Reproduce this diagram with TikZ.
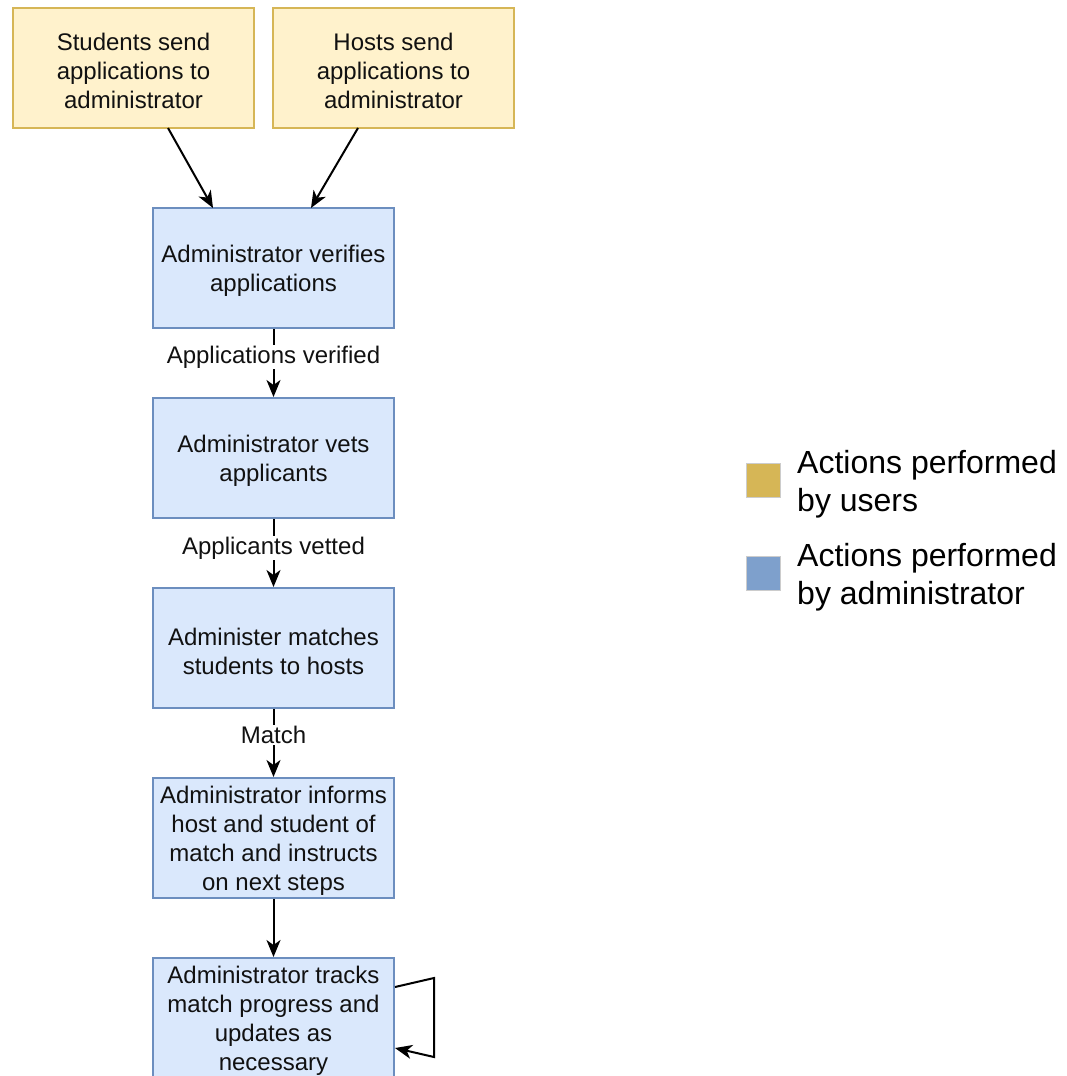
\documentclass[tikz,border=0pt]{standalone}
\usepackage{fontspec}
\setmainfont{Liberation Sans}
\usetikzlibrary{arrows.meta}
\definecolor{yfill}{HTML}{FFF2CC}
\definecolor{ydraw}{HTML}{D6B656}
\definecolor{bfill}{HTML}{DAE8FC}
\definecolor{bdraw}{HTML}{6C8EBF}
\definecolor{legy}{HTML}{D6B656}
\definecolor{legb}{HTML}{7EA0CC}
\definecolor{txt}{HTML}{111111}
\tikzset{
  box/.style={rectangle, minimum width=241pt, minimum height=120pt, line width=2pt,
    inner sep=0pt},
  boxtext/.style={align=center, inner sep=0pt, text=txt, yshift=-3pt,
    font=\fontsize{24}{29}\selectfont},
  userbox/.style={box, fill=yfill, draw=ydraw},
  adminbox/.style={box, fill=bfill, draw=bdraw},
  conn/.style={line width=2pt, -{Stealth[length=17pt,width=14pt,inset=5pt]}},
  elabel/.style={fill=white, inner sep=1pt, text=txt, font=\fontsize{24}{29}\selectfont},
  legsq/.style={rectangle, minimum size=34pt, inner sep=0pt, draw=black!20, line width=0.8pt},
  legtxt/.style={align=left, anchor=west, inner sep=0pt, text=black, font=\fontsize{32}{38}\selectfont}
}
\begin{document}
\begin{tikzpicture}[x=1pt,y=-1pt]
\useasboundingbox (0,0) rectangle (1066,1076);
\clip (0,0) rectangle (1066,1076);
\fill[white] (0,0) rectangle (1066,1076);
\node[userbox, label={[boxtext]center:Students send\\applications to\\administrator}] (u1) at (133.5,68) {};
\node[userbox, label={[boxtext]center:Hosts send\\applications to\\administrator}] (u2) at (393.5,68) {};
\node[adminbox, label={[boxtext]center:Administrator verifies\\applications}] (a1) at (273.5,268) {};
\node[adminbox, label={[boxtext]center:Administrator vets\\applicants}] (a2) at (273.5,458) {};
\node[adminbox, label={[boxtext]center:Administer matches\\students to hosts}] (a3) at (273.5,648) {};
\node[adminbox, label={[boxtext]center:Administrator informs\\host and student of\\match and instructs\\on next steps}] (a4) at (273.5,838) {};
\node[adminbox, label={[boxtext]center:Administrator tracks\\match progress and\\updates as\\necessary}] (a5) at (273.5,1018) {};
\coordinate (s1) at (168,128);
\coordinate (t1) at (213,208);
\coordinate (s2) at (358,128);
\coordinate (t2) at (311,208);
\draw[conn] (s1) -- (t1);
\draw[conn] (s2) -- (t2);
\draw[conn] (a1) -- node[elabel, pos=0.41] {Applications verified} (a2);
\draw[conn] (a2) -- node[elabel, pos=0.43] {Applicants vetted} (a3);
\draw[conn] (a3) -- node[elabel, pos=0.38] {Match} (a4);
\draw[conn] (a4) -- (a5);
\coordinate (l1) at (434,978);
\coordinate (l2) at (434,1057);
\draw[conn] ([yshift=31pt]a5.east) -- (l1) -- (l2) -- ([yshift=-30pt]a5.east);
\node[legsq, fill=legy] (k1) at (763,480) {};
\node[legsq, fill=legb] (k2) at (763,573) {};
\node[legtxt] (k1t) at (797,484) {Actions performed\\by users};
\node[legtxt] (k2t) at (797,577) {Actions performed\\by administrator};
\end{tikzpicture}
\end{document}
